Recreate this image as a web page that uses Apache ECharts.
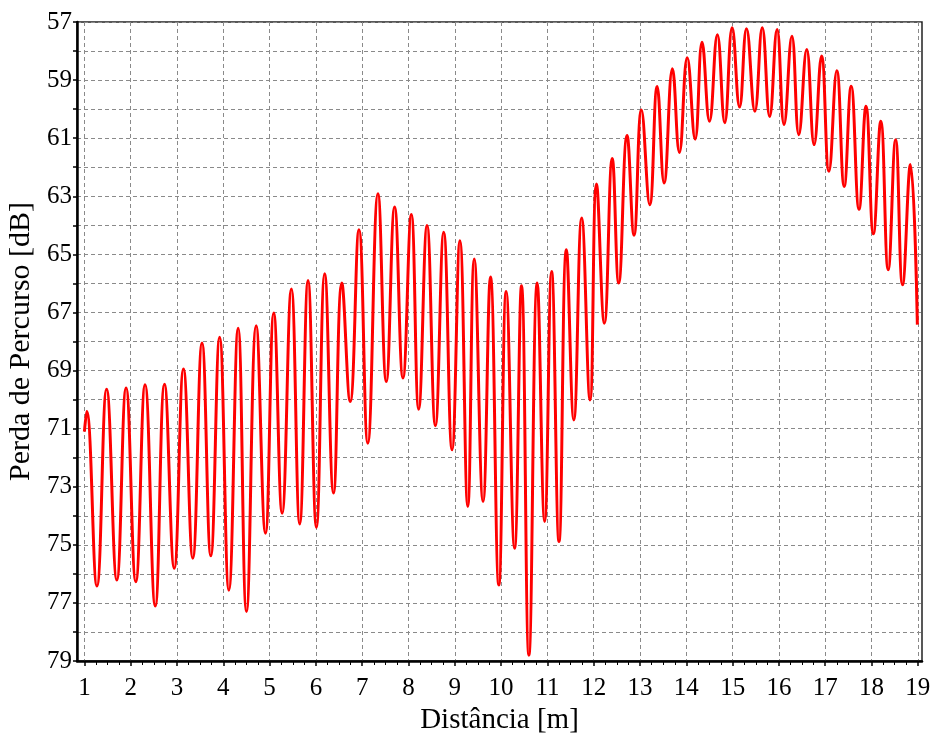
<!DOCTYPE html>
<html><head><meta charset="utf-8">
<script src="https://cdn.jsdelivr.net/npm/echarts@6/dist/echarts.min.js"></script>
<style>html,body{margin:0;padding:0;background:#fff}#c{width:934px;height:738px}</style>
</head><body><div id="c"></div>
<script>
// Distância [m] at each local extreme of the trace
const distance = [
  1.00, 1.05, 1.27, 1.48, 1.70, 1.90, 2.11, 2.31, 2.53, 2.73, 2.94, 3.14, 3.34, 3.54, 3.73, 3.92,
  4.12, 4.32, 4.50, 4.71, 4.91, 5.09, 5.27, 5.47, 5.65, 5.83, 6.01, 6.19, 6.38, 6.56, 6.74, 6.93,
  7.12, 7.34, 7.52, 7.70, 7.88, 8.06, 8.22, 8.40, 8.58, 8.76, 8.94, 9.11, 9.28, 9.42, 9.61, 9.77,
  9.95, 10.11, 10.29, 10.44, 10.60, 10.78, 10.94, 11.09, 11.25, 11.41, 11.57, 11.74, 11.92, 12.06,
  12.23, 12.40, 12.54, 12.72, 12.87, 13.03, 13.21, 13.37, 13.52, 13.70, 13.85, 14.02, 14.19, 14.34,
  14.50, 14.67, 14.83, 14.99, 15.15, 15.30, 15.48, 15.64, 15.80, 15.96, 16.11, 16.28, 16.43, 16.60,
  16.76, 16.92, 17.08, 17.25, 17.41, 17.56, 17.73, 17.88, 18.04, 18.20, 18.36, 18.52, 18.67, 18.84,
  18.99
];
// Perda de Percurso [dB] at those points
const pathLoss = [
  71.1, 70.41, 76.42, 69.64, 76.21, 69.60, 76.27, 69.49, 77.11, 69.47, 75.81, 68.95, 75.46, 68.05, 75.38, 67.85,
  76.56, 67.54, 77.30, 67.46, 74.60, 67.02, 73.91, 66.19, 74.28, 65.90, 74.40, 65.67, 73.22, 65.99, 70.07, 64.15,
  71.50, 62.91, 69.38, 63.37, 69.26, 63.63, 70.33, 64.01, 70.90, 64.24, 71.73, 64.53, 73.68, 65.16, 73.51, 65.78,
  76.38, 66.28, 75.12, 66.08, 78.80, 65.99, 74.20, 65.59, 74.89, 64.84, 70.70, 63.75, 70.01, 62.58,
  67.37, 61.70, 65.99, 60.91, 64.34, 60.03, 63.29, 59.22, 62.54, 58.61, 61.49, 58.23, 61.03, 57.70,
  60.42, 57.44, 60.47, 57.20, 59.93, 57.23, 60.07, 57.20, 60.25, 57.26, 60.53, 57.49, 60.88, 57.95,
  61.22, 58.17, 62.14, 58.68, 62.66, 59.21, 63.45, 59.90, 64.29, 60.42, 65.53, 61.05, 66.05, 61.91,
  67.42
];
const xTickValues = [1,2,3,4,5,6,7,8,9,10,11,12,13,14,15,16,17,18,19];
const xMinorTickValues = [];
for (let i = 0; i < xTickValues.length - 1; i++) {
  for (let k = 1; k < 4; k++) xMinorTickValues.push(xTickValues[i] + k * 0.25);
}
const yLabelValues = [57,59,61,63,65,67,69,71,73,75,77,79];

const points = distance.map((d, i) => [d, pathLoss[i]]);
const serif = 'Liberation Serif';
const chart = echarts.init(document.getElementById('c'), null, {renderer: 'canvas'});
chart.setOption({
  animation: false,
  backgroundColor: '#ffffff',
  grid: {left: 77, top: 22, width: 845, height: 639, show: true, borderColor: '#222', borderWidth: 1.5,
    containLabel: false, outerBoundsMode: 'none'},
  xAxis: [{
    type: 'value', min: 0.84, max: 19.09, position: 'bottom',
    name: 'Distância [m]', nameLocation: 'middle', nameGap: 42,
    nameTextStyle: {fontFamily: serif, fontSize: 29, color: '#000'},
    axisLine: {show: true, onZero: false, lineStyle: {color: '#000', width: 2.5}},
    axisTick: {show: true, customValues: xTickValues, length: 5, lineStyle: {color: '#000', width: 1.5}},
    axisLabel: {customValues: xTickValues, fontFamily: serif, fontSize: 25, color: '#000', margin: 15},
    splitLine: {show: true, lineStyle: {color: '#8a8a8a', type: [4, 3], width: 1}}
  }, {
    type: 'value', min: 0.84, max: 19.09, position: 'bottom',
    axisLine: {show: false},
    axisTick: {show: true, customValues: xMinorTickValues, length: 4, lineStyle: {color: '#000', width: 1}},
    axisLabel: {show: false},
    splitLine: {show: false}
  }],
  yAxis: {
    type: 'value', inverse: true, min: 57, max: 79, interval: 1,
    name: 'Perda de Percurso [dB]', nameLocation: 'middle', nameGap: 34,
    nameTextStyle: {fontFamily: serif, fontSize: 30, color: '#000'},
    axisLine: {show: true, onZero: false, lineStyle: {color: '#000', width: 2.5}},
    axisTick: {show: true, length: 4, lineStyle: {color: '#000', width: 1.5}},
    axisLabel: {fontFamily: serif, fontSize: 25, color: '#000', margin: 5,
      formatter: v => (yLabelValues.indexOf(v) >= 0 ? String(v) : '')},
    splitLine: {show: true, lineStyle: {color: '#8a8a8a', type: [4, 3], width: 1}}
  },
  series: [{
    type: 'line', xAxisIndex: 0, data: points, showSymbol: false, smooth: 0.45,
    lineStyle: {color: '#ff0000', width: 3}, clip: true
  }]
});
</script>
</body></html>
